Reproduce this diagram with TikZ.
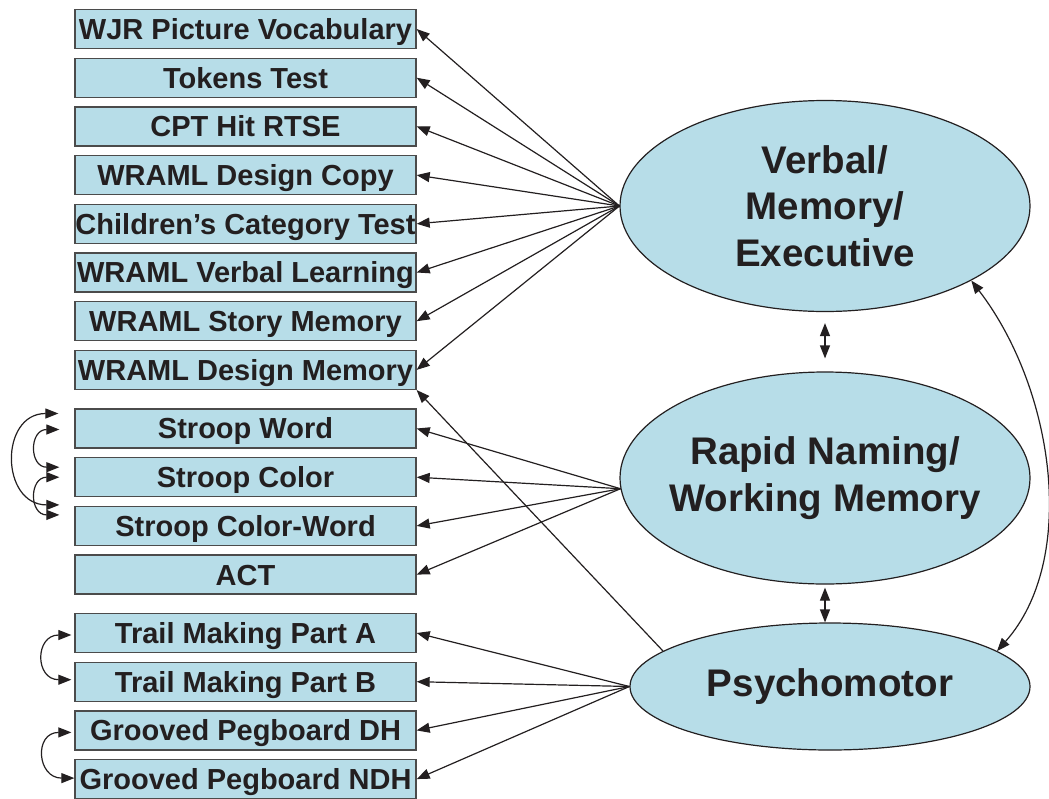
\documentclass[tikz,border=0pt]{standalone}
\usepackage{fontspec}
\setmainfont{Liberation Sans}
\usepackage{xcolor}
\usepackage{tikz}
\usetikzlibrary{arrows.meta,shapes.geometric}
\definecolor{factorblue}{RGB}{183,221,232}
\definecolor{edgegray}{RGB}{75,75,75}
\definecolor{inkblack}{RGB}{35,31,32}
\tikzset{
  testbox/.style={
    draw=edgegray,fill=factorblue,line width=1.3pt,minimum width=341pt,
    minimum height=39pt,inner sep=0pt,text=inkblack,text height=20.8pt,
    text depth=0pt,font=\fontsize{29}{31}\selectfont\bfseries
  },
  factor/.style={
    ellipse,draw=inkblack,fill=factorblue,line width=1.2pt,inner sep=-30pt,
    align=center,text=inkblack,font=\fontsize{38.5}{46.5}\selectfont\bfseries
  },
  loading/.style={-{Triangle[length=13pt,width=10pt]},line width=1.2pt,draw=inkblack},
  corrarrow/.style={{Triangle[length=13pt,width=10pt]}-{Triangle[length=13pt,width=10pt]},line width=1.2pt,draw=inkblack}
}

\begin{document}
\begin{tikzpicture}[x=1pt,y=-1pt]
  \useasboundingbox (0,0) rectangle (1049,798);
  % observed tests
  \node[testbox] (wjr)    at (245.5,29)    {WJR Picture Vocabulary};
  \node[testbox] (tokens) at (245.5,77.7)  {Tokens Test};
  \node[testbox] (cpt)    at (245.5,126.4) {CPT Hit RTSE};
  \node[testbox] (wdcopy) at (245.5,175.1) {WRAML Design Copy};
  \node[testbox] (cct)    at (245.5,223.8) {Children’s Category Test};
  \node[testbox] (wverb)  at (245.5,272.5) {WRAML Verbal Learning};
  \node[testbox] (wstory) at (245.5,321.2) {WRAML Story Memory};
  \node[testbox] (wdmem)  at (245.5,369.9) {WRAML Design Memory};
  \node[testbox] (swd)    at (245.5,428.5) {Stroop Word};
  \node[testbox] (scol)   at (245.5,477.2) {Stroop Color};
  \node[testbox] (scw)    at (245.5,525.9) {Stroop Color-Word};
  \node[testbox] (act)    at (245.5,574.6) {ACT};
  \node[testbox] (tma)    at (245.5,633)   {Trail Making Part A};
  \node[testbox] (tmb)    at (245.5,681.7) {Trail Making Part B};
  \node[testbox] (gpdh)   at (245.5,730.4) {Grooved Pegboard DH};
  \node[testbox] (gpndh)  at (245.5,779.1) {Grooved Pegboard NDH};
  % latent factors
  \node[factor,minimum width=410pt,minimum height=211pt] (vme) at (825,206)
    {Verbal/\\Memory/\\Executive};
  \node[factor,minimum width=410pt,minimum height=212pt] (rnwm) at (825,478)
    {Rapid Naming/\\Working Memory};
  \node[factor,minimum width=400pt,minimum height=127pt] (psy) at (830,686.5)
    {Psychomotor};
  % loadings
  \foreach \t in {wjr,tokens,cpt,wdcopy,cct,wverb,wstory,wdmem}
    \draw[loading] (vme.west) -- (\t.east);
  \foreach \t in {swd,scol,scw,act}
    \draw[loading] (rnwm.183) -- (\t.east);
  \foreach \t in {tma,tmb,gpdh,gpndh}
    \draw[loading] (psy.west) -- (\t.east);
  \draw[loading] (psy.168) -- (wdmem.south east);
  % factor correlations
  \draw[corrarrow] ([yshift=-11pt]vme.south) -- ([yshift=13pt]rnwm.north);
  \draw[corrarrow] ([yshift=-3pt]rnwm.south) -- (rnwm.south |- psy.north);
  \draw[corrarrow] (vme.-27) .. controls (1055,390) and (1078,560) .. (psy.12);
  % residual correlations
  \coordinate (swdA)  at ([xshift=-16pt,yshift=15pt]swd.west);
  \coordinate (swdB)  at ([xshift=-15pt,yshift=-1pt]swd.west);
  \coordinate (scolA) at ([xshift=-15pt,yshift=10pt]scol.west);
  \coordinate (scolB) at ([xshift=-15pt]scol.west);
  \coordinate (scwA)  at ([xshift=-15pt,yshift=21pt]scw.west);
  \coordinate (scwB)  at ([xshift=-15pt,yshift=11pt]scw.west);
  \draw[corrarrow] (swdA) to[out=180,in=180,looseness=1.65] (scwA);
  \draw[corrarrow] (swdB) to[out=180,in=180,looseness=2.06] (scolA);
  \draw[corrarrow] (scolB) to[out=180,in=180,looseness=2.06] (scwB);
  \draw[corrarrow] ([xshift=-3pt,yshift=-2pt]tma.west) to[out=180,in=180,looseness=2.1] ([xshift=-3pt,yshift=2pt]tmb.west);
  \draw[corrarrow] ([xshift=-3pt,yshift=-2pt]gpdh.west) to[out=180,in=180,looseness=2.1] ([yshift=1pt]gpndh.west);
\end{tikzpicture}
\end{document}
